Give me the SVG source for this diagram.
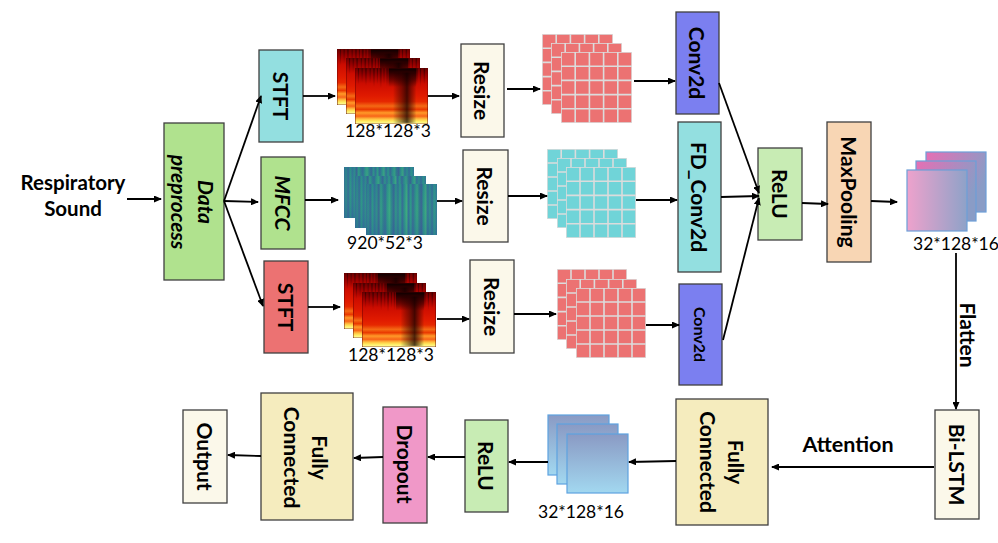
<svg xmlns="http://www.w3.org/2000/svg" xmlns:xlink="http://www.w3.org/1999/xlink" width="998" height="543" viewBox="0 0 998 543">
<style>
.box{stroke:#3f3f3f;stroke-width:1.3}
.lbl{font-family:Lato,"Liberation Sans",sans-serif;font-weight:bold;font-size:21px;fill:#000;text-anchor:middle;dominant-baseline:central}
.it{font-style:italic}
.dim{font-family:Lato,"Liberation Sans",sans-serif;font-size:17.5px;fill:#000;text-anchor:middle}
.con{stroke:#000;stroke-width:1.8;fill:none;marker-end:url(#ah)}
.fm{stroke:#6d9fd8;stroke-width:1.2}
.fm2{stroke:#5ea2e0;stroke-width:1.2}
</style>
<defs>
<marker id="ah" viewBox="0 0 8 7" refX="7" refY="3.5" markerWidth="8" markerHeight="7" markerUnits="userSpaceOnUse" orient="auto">
<path d="M0,0 L8,3.5 L0,7 z" fill="#000"/>
</marker>
<linearGradient id="gHot" x1="0" y1="0" x2="0" y2="1">
<stop offset="0" stop-color="#6a0000"/>
<stop offset="0.12" stop-color="#9a0000"/>
<stop offset="0.28" stop-color="#cc0c00"/>
<stop offset="0.5" stop-color="#e01a00"/>
<stop offset="0.6" stop-color="#e62800"/>
<stop offset="0.68" stop-color="#f46a14"/>
<stop offset="0.74" stop-color="#ea3800"/>
<stop offset="0.8" stop-color="#ff9a28"/>
<stop offset="0.86" stop-color="#f86418"/>
<stop offset="0.91" stop-color="#ffc040"/>
<stop offset="0.95" stop-color="#ffec60"/>
<stop offset="1" stop-color="#ffffa8"/>
</linearGradient>
<linearGradient id="gDarkTop" x1="0" y1="0" x2="0" y2="1">
<stop offset="0" stop-color="#000" stop-opacity="0.9"/>
<stop offset="0.6" stop-color="#200000" stop-opacity="0.5"/>
<stop offset="1" stop-color="#000" stop-opacity="0"/>
</linearGradient>
<linearGradient id="gCol" x1="0" y1="0" x2="1" y2="0">
<stop offset="0" stop-color="#000" stop-opacity="0"/>
<stop offset="0.35" stop-color="#200000" stop-opacity="0.45"/>
<stop offset="0.6" stop-color="#100000" stop-opacity="0.75"/>
<stop offset="0.8" stop-color="#200000" stop-opacity="0.4"/>
<stop offset="1" stop-color="#000" stop-opacity="0"/>
</linearGradient>
<linearGradient id="gStripe" x1="0" y1="0" x2="0" y2="1">
<stop offset="0" stop-color="#000" stop-opacity="0.45"/>
<stop offset="1" stop-color="#000" stop-opacity="0"/>
</linearGradient>
<linearGradient id="gVir" x1="0" y1="0" x2="1" y2="0">
<stop offset="0" stop-color="#34689a"/><stop offset="0.03" stop-color="#2c868c"/>
<stop offset="0.06" stop-color="#37609a"/><stop offset="0.09" stop-color="#2a9488"/>
<stop offset="0.12" stop-color="#33709a"/><stop offset="0.15" stop-color="#2e8a8c"/>
<stop offset="0.18" stop-color="#3a5c96"/><stop offset="0.21" stop-color="#30a084"/>
<stop offset="0.24" stop-color="#2e7a8e"/><stop offset="0.27" stop-color="#36649a"/>
<stop offset="0.3" stop-color="#2c9488"/><stop offset="0.33" stop-color="#3aa882"/>
<stop offset="0.36" stop-color="#2e808e"/><stop offset="0.39" stop-color="#385e98"/>
<stop offset="0.42" stop-color="#2d9488"/><stop offset="0.45" stop-color="#346c98"/>
<stop offset="0.48" stop-color="#2da084"/><stop offset="0.51" stop-color="#37609a"/>
<stop offset="0.54" stop-color="#2c8c8c"/><stop offset="0.57" stop-color="#3cac80"/>
<stop offset="0.6" stop-color="#33669a"/><stop offset="0.63" stop-color="#2a9a88"/>
<stop offset="0.66" stop-color="#3a5e98"/><stop offset="0.69" stop-color="#2c8a8c"/>
<stop offset="0.72" stop-color="#35a282"/><stop offset="0.75" stop-color="#31728f"/>
<stop offset="0.78" stop-color="#3a5a96"/><stop offset="0.81" stop-color="#2c908a"/>
<stop offset="0.84" stop-color="#3ca880"/><stop offset="0.87" stop-color="#33689a"/>
<stop offset="0.9" stop-color="#2b8e8c"/><stop offset="0.93" stop-color="#36629a"/>
<stop offset="0.96" stop-color="#2c968a"/><stop offset="1" stop-color="#33709a"/>
</linearGradient>
<linearGradient id="gVirV" x1="0" y1="0" x2="0" y2="1">
<stop offset="0" stop-color="#2a7f8e" stop-opacity="0.25"/>
<stop offset="0.5" stop-color="#3fae7f" stop-opacity="0.15"/>
<stop offset="1" stop-color="#2f6a94" stop-opacity="0.3"/>
</linearGradient>
<linearGradient id="gPinkF" x1="0" y1="0" x2="1" y2="0">
<stop offset="0" stop-color="#eea2cc"/>
<stop offset="1" stop-color="#8ea2c8"/>
</linearGradient>
<linearGradient id="gPinkB" x1="0" y1="0" x2="1" y2="0.4">
<stop offset="0" stop-color="#e66fb4"/>
<stop offset="1" stop-color="#8a9cc6"/>
</linearGradient>
<linearGradient id="gBlue" x1="0" y1="0" x2="0" y2="1">
<stop offset="0" stop-color="#8a9ac4"/>
<stop offset="1" stop-color="#a2d8f0"/>
</linearGradient>
<symbol id="hot" viewBox="0 0 100 100" preserveAspectRatio="none">
<rect width="100" height="100" fill="url(#gHot)"/>
<g fill="url(#gStripe)">
<rect x="4" y="0" width="1.5" height="30"/><rect x="9" y="0" width="1.5" height="26"/>
<rect x="14" y="0" width="2" height="32"/><rect x="20" y="0" width="1.5" height="28"/>
<rect x="25" y="0" width="2" height="34"/><rect x="30" y="0" width="1.5" height="30"/>
<rect x="34" y="0" width="2.5" height="36"/><rect x="39" y="0" width="1.5" height="30"/>
<rect x="43" y="0" width="2" height="34"/><rect x="84" y="0" width="2" height="30"/>
<rect x="89" y="0" width="1.5" height="34"/><rect x="94" y="0" width="2" height="30"/>
</g>
<rect x="46" y="0" width="38" height="34" fill="url(#gDarkTop)"/>
<rect x="52" y="8" width="32" height="90" fill="url(#gCol)"/>
<rect x="0.3" y="0.3" width="99.4" height="99.4" fill="none" stroke="#600000" stroke-width="0.6"/>
</symbol>
<symbol id="vir" viewBox="0 0 100 100" preserveAspectRatio="none">
<rect width="100" height="100" fill="url(#gVir)"/>
<rect width="100" height="100" fill="url(#gVirV)"/>
</symbol>
<symbol id="grid" viewBox="0 0 71 71" preserveAspectRatio="none">
<rect x="0" y="0" width="71" height="71" fill="currentColor" stroke="#dcdcdc" stroke-width="1.6"/>
<path d="M14.2,0V71M28.4,0V71M42.6,0V71M56.8,0V71M0,14.2H71M0,28.4H71M0,42.6H71M0,56.8H71" stroke="#dcdcdc" stroke-width="1.6" fill="none"/>
</symbol>
</defs>

<rect width="998" height="543" fill="#fff"/>

<g id="input">
<text class="dim" style="font-weight:bold;font-size:20.5px" x="73" y="190">Respiratory</text>
<text class="dim" style="font-weight:bold;font-size:20.5px" x="73" y="216">Sound</text>
</g>

<g id="preprocess">
<rect class="box" x="164" y="123" width="60" height="157" fill="#b0e28e"/>
<text class="lbl it" transform="translate(206,202) rotate(90)">Data</text>
<text class="lbl it" transform="translate(179,202) rotate(90)">preprocess</text>
</g>

<g id="stft1">
<rect class="box" x="259" y="50" width="44" height="92" fill="#93dfe0"/>
<text class="lbl" transform="translate(281,96) rotate(90)">STFT</text>
</g>
<g id="mfcc">
<rect class="box" x="261" y="157" width="44" height="92" fill="#b0e28e"/>
<text class="lbl it" transform="translate(283,203) rotate(90)">MFCC</text>
</g>
<g id="stft2">
<rect class="box" x="264" y="261" width="44" height="92" fill="#ec7272"/>
<text class="lbl" transform="translate(286,307) rotate(90)">STFT</text>
</g>

<g id="spec1">
<use xlink:href="#hot" x="337" y="49" width="73" height="56"/>
<use xlink:href="#hot" x="346" y="58" width="74" height="56"/>
<use xlink:href="#hot" x="355" y="68" width="73" height="56"/>
<text class="dim" x="388" y="137">128*128*3</text>
</g>
<g id="spec2">
<use xlink:href="#vir" x="344" y="167" width="70" height="51"/>
<use xlink:href="#vir" x="355" y="176" width="71" height="52"/>
<use xlink:href="#vir" x="366" y="184" width="71" height="51"/>
<text class="dim" x="385" y="249">920*52*3</text>
</g>
<g id="spec3">
<use xlink:href="#hot" x="344" y="273" width="73" height="56"/>
<use xlink:href="#hot" x="353" y="283" width="73" height="55"/>
<use xlink:href="#hot" x="362" y="292" width="74" height="55"/>
<text class="dim" x="391" y="361">128*128*3</text>
</g>

<g id="resize1">
<rect class="box" x="461" y="44" width="43" height="93" fill="#fbf8ea"/>
<text class="lbl" transform="translate(482.5,90.5) rotate(90)">Resize</text>
</g>
<g id="resize2">
<rect class="box" x="463" y="150" width="45" height="92" fill="#fbf8ea"/>
<text class="lbl" transform="translate(485.5,196) rotate(90)">Resize</text>
</g>
<g id="resize3">
<rect class="box" x="470" y="260" width="44" height="93" fill="#fbf8ea"/>
<text class="lbl" transform="translate(492,306.5) rotate(90)">Resize</text>
</g>

<g id="grid1" color="#ec7272">
<use xlink:href="#grid" x="542" y="34" width="71" height="71"/>
<use xlink:href="#grid" x="551" y="43" width="71" height="71"/>
<use xlink:href="#grid" x="561" y="52" width="71" height="71"/>
</g>
<g id="grid2" color="#70d4d8">
<use xlink:href="#grid" x="547" y="149" width="71" height="70"/>
<use xlink:href="#grid" x="557" y="158" width="70" height="70"/>
<use xlink:href="#grid" x="566" y="167" width="70" height="71"/>
</g>
<g id="grid3" color="#ec7272">
<use xlink:href="#grid" x="557" y="269" width="70" height="71"/>
<use xlink:href="#grid" x="566" y="279" width="71" height="70"/>
<use xlink:href="#grid" x="576" y="288" width="70" height="70"/>
</g>

<g id="conv1">
<rect class="box" x="676" y="12" width="43" height="102" fill="#7b7ff0"/>
<text class="lbl" transform="translate(697.5,63) rotate(90)">Conv2d</text>
</g>
<g id="fdconv">
<rect class="box" x="678" y="122" width="43" height="150" fill="#93dfe0"/>
<text class="lbl" transform="translate(699.5,197) rotate(90)">FD_Conv2d</text>
</g>
<g id="conv2">
<rect class="box" x="679" y="284" width="43" height="101" fill="#7b7ff0"/>
<text class="lbl" style="font-size:16px" transform="translate(700.5,334.5) rotate(90)">Conv2d</text>
</g>

<g id="relu1">
<rect class="box" x="758" y="148" width="44" height="92" fill="#c8ecb4"/>
<text class="lbl" transform="translate(780,194) rotate(90)">ReLU</text>
</g>
<g id="maxpool">
<rect class="box" x="827" y="122" width="44" height="140" fill="#f8d6b4"/>
<text class="lbl" transform="translate(849,192) rotate(90)">MaxPooling</text>
</g>

<g id="fmap1">
<rect class="fm" x="926" y="152" width="60" height="60" fill="url(#gPinkB)"/>
<rect class="fm" x="916" y="161" width="60" height="60" fill="url(#gPinkB)"/>
<rect class="fm" x="907" y="170" width="60" height="61" fill="url(#gPinkF)"/>
<text class="dim" style="text-anchor:start" x="913" y="250">32*128*16</text>
</g>

<g id="flatten">
<text class="lbl" transform="translate(968,335) rotate(90)">Flatten</text>
</g>

<g id="bilstm">
<rect class="box" x="935" y="410" width="44" height="109" fill="#fbf8ea"/>
<text class="lbl" transform="translate(957,464.5) rotate(90)">Bi-LSTM</text>
</g>

<g id="attention">
<text class="dim" style="font-weight:bold;font-size:21.5px" x="848" y="452">Attention</text>
</g>

<g id="fc1">
<rect class="box" x="676" y="399" width="92" height="126" fill="#f5ecbe"/>
<text class="lbl" transform="translate(736,462) rotate(90)">Fully</text>
<text class="lbl" transform="translate(708,462) rotate(90)">Connected</text>
</g>

<g id="fmap2">
<rect class="fm2" x="548" y="415" width="61" height="60" fill="url(#gBlue)"/>
<rect class="fm2" x="557" y="424" width="61" height="60" fill="url(#gBlue)"/>
<rect class="fm2" x="567" y="434" width="61" height="59" fill="url(#gBlue)"/>
<text class="dim" x="581" y="518">32*128*16</text>
</g>

<g id="relu2">
<rect class="box" x="465" y="420" width="43" height="92" fill="#c8ecb4"/>
<text class="lbl" transform="translate(486.5,466) rotate(90)">ReLU</text>
</g>
<g id="dropout">
<rect class="box" x="383" y="407" width="44" height="116" fill="#f098c8"/>
<text class="lbl" transform="translate(405,464) rotate(90)">Dropout</text>
</g>
<g id="fc2">
<rect class="box" x="261" y="393" width="92" height="127" fill="#f5ecbe"/>
<text class="lbl" transform="translate(320,457.5) rotate(90)">Fully</text>
<text class="lbl" transform="translate(292,457.5) rotate(90)">Connected</text>
</g>
<g id="output">
<rect class="box" x="183" y="410" width="44" height="93" fill="#fbf8ea"/>
<text class="lbl" transform="translate(205,456.5) rotate(90)">Output</text>
</g>

<g id="connectors">
<path class="con" d="M127,199 L161,199"/>
<path class="con" d="M224,201 L261,96"/>
<path class="con" d="M224,201 L258,202"/>
<path class="con" d="M224,201 L263,306"/>
<path class="con" d="M303,96 L335,96"/>
<path class="con" d="M305,200 L338,200"/>
<path class="con" d="M308,307 L340,307"/>
<path class="con" d="M428,96 L459,96"/>
<path class="con" d="M437,201 L462,201"/>
<path class="con" d="M437,319 L469,319"/>
<path class="con" d="M507,89 L540,89"/>
<path class="con" d="M508,196 L547,196"/>
<path class="con" d="M514,314 L556,314"/>
<path class="con" d="M634,81 L675,81"/>
<path class="con" d="M636,200 L677,200"/>
<path class="con" d="M646,325 L679,325"/>
<path class="con" d="M719,83 L759,193"/>
<path class="con" d="M721,197 L759,196"/>
<path class="con" d="M723,340 L759,198"/>
<path class="con" d="M802,203 L828,204"/>
<path class="con" d="M871,201 L897,202"/>
<path class="con" d="M956,253 L956,409"/>
<path class="con" d="M934,467 L772,467"/>
<path class="con" d="M676,461 L629,462"/>
<path class="con" d="M548,462 L509,462"/>
<path class="con" d="M465,457 L428,457"/>
<path class="con" d="M383,457 L354,458"/>
<path class="con" d="M261,456 L228,455"/>
</g>
</svg>
